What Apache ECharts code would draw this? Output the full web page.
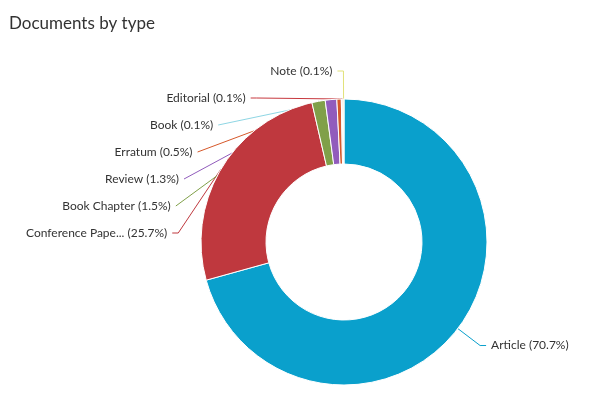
<!DOCTYPE html>
<html>
<head>
<meta charset="utf-8">
<script src="https://cdn.jsdelivr.net/npm/echarts@6/dist/echarts.min.js"></script>
<style>
  html, body { margin: 0; padding: 0; background: #fff; }
  #chart { width: 600px; height: 396px; }
</style>
</head>
<body>
<div id="chart"></div>
<script>
// document types, in drawing order (clockwise from 12 o'clock)
var docTypes = ['Article', 'Conference Paper', 'Book Chapter', 'Review', 'Erratum', 'Book', 'Editorial', 'Note'];
var docShares = [70.7, 25.7, 1.5, 1.3, 0.5, 0.1, 0.1, 0.1];
var sliceColors = ['#0aa0cc', '#bf383e', '#80a049', '#915cbc', '#d6582a', '#8ed6e4', '#c7383e', '#e2e27a'];

var chart = echarts.init(document.getElementById('chart'));

var pieData = [];
for (var i = 0; i < docTypes.length; i++) {
  pieData.push({
    name: docTypes[i],
    value: docShares[i],
    itemStyle: { color: sliceColors[i] },
    labelLine: { lineStyle: { color: sliceColors[i] } }
  });
}

var option = {
  backgroundColor: '#fff',
  animation: false,
  title: {
    text: 'Documents by type',
    left: 4,
    top: 10,
    textStyle: {
      fontFamily: 'Lato',
      fontSize: 17,
      fontWeight: 'normal',
      color: '#333'
    }
  },
  series: [
    {
      type: 'pie',
      center: [344, 242],
      radius: [78, 143],
      startAngle: 90,
      clockwise: true,
      avoidLabelOverlap: true,
      itemStyle: {
        borderColor: '#fff',
        borderWidth: 1
      },
      label: {
        fontFamily: 'Lato',
        fontSize: 12,
        color: '#333',
        lineHeight: 25,
        formatter: function (p) {
          var n = p.name.length > 15 ? p.name.slice(0, 15) + '...' : p.name;
          return n + ' (' + p.value + '%)';
        }
      },
      labelLine: {
        length: 28,
        length2: 6,
        lineStyle: { width: 1 }
      },
      data: pieData
    }
  ]
};
chart.setOption(option);
</script>
</body>
</html>
